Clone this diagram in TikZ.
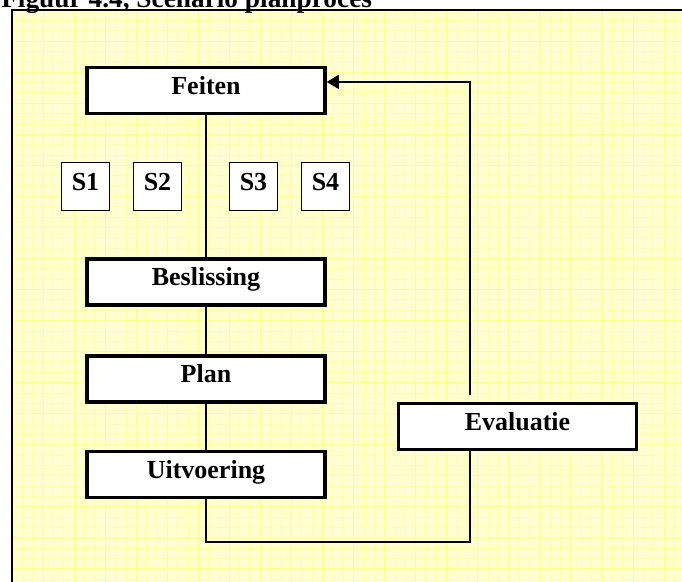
\documentclass[tikz,border=0pt]{standalone}
\usepackage{fontspec}
\setmainfont{Liberation Serif}
\usetikzlibrary{arrows.meta}
\newlength\pxl \setlength\pxl{0.75pt}
\definecolor{bgyellow}{RGB}{255,255,208}
\definecolor{gridminor}{RGB}{255,255,172}
\definecolor{gridmajor}{RGB}{255,255,145}
\begin{document}
\begin{tikzpicture}[x=0.75pt,y=-0.75pt,
  box/.style={draw, line width=3.5\pxl, fill=white, minimum width=238\pxl, minimum height=46\pxl, inner sep=0pt,
    font=\fontsize{19.5}{22}\selectfont\bfseries, text height=16\pxl, text depth=9\pxl},
  sbox/.style={draw, line width=1.3\pxl, fill=white, minimum width=48\pxl, minimum height=48\pxl, inner sep=0pt,
    font=\fontsize{19.5}{22}\selectfont\bfseries, text height=16\pxl, text depth=9\pxl},
  conn/.style={line width=0.98pt},
  titlestyle/.style={anchor=base west, inner sep=0pt, font=\fontsize{20.5}{24}\selectfont\bfseries}]
\useasboundingbox (0,0) rectangle (682,582);
% background with grid
\fill[bgyellow] (12,10) rectangle (682,582);
\foreach \i in {0,...,65} {
  \draw[gridminor, line width=0.5pt] (12+\i*10.35,10) -- (12+\i*10.35,582);
}
\foreach \j in {0,...,55} {
  \draw[gridminor, line width=0.5pt] (12,10+\j*10.35) -- (682,10+\j*10.35);
}
\foreach \i in {0,...,21} {
  \draw[gridmajor, line width=0.75pt] (12+\i*31.05,10) -- (12+\i*31.05,582);
}
\foreach \j in {0,...,18} {
  \draw[gridmajor, line width=0.75pt] (12,10+\j*31.05) -- (682,10+\j*31.05);
}
% frame
\draw[line width=1.5pt] (12,582) -- (12,10) -- (682,10);
% title (cut by the page top)
\node[titlestyle] (title) at (1,7) {Figuur 4.4, Scenario planproces};
% nodes
\node[box] (feiten) at (206,90.5) {Feiten};
\node[sbox] (s1) at (85.5,186.5) {S1};
\node[sbox] (s2) at (157.5,186.5) {S2};
\node[sbox] (s3) at (253.5,186.5) {S3};
\node[sbox] (s4) at (325.5,186.5) {S4};
\node[box] (besl) at (206,282) {Beslissing};
\node[box] (plan) at (206,379) {Plan};
\node[box] (uitv) at (206,474.5) {Uitvoering};
\node[box] (eval) at (517.5,426.5) {Evaluatie};
% connectors
\draw[conn] (feiten.south) -- (besl.north);
\draw[conn] (besl.south) -- (plan.north);
\draw[conn] (plan.south) -- (uitv.north);
\coordinate (corner) at (470,542);
\coordinate (arrowend) at ([yshift=6.4pt]feiten.east);
\draw[conn] (uitv.south) |- (corner) -- (corner |- eval.south);
\draw[conn, shorten <=5.25pt, -{Triangle[length=9pt, width=10.5pt]}] (corner |- eval.north) |- (arrowend);
\end{tikzpicture}
\end{document}
